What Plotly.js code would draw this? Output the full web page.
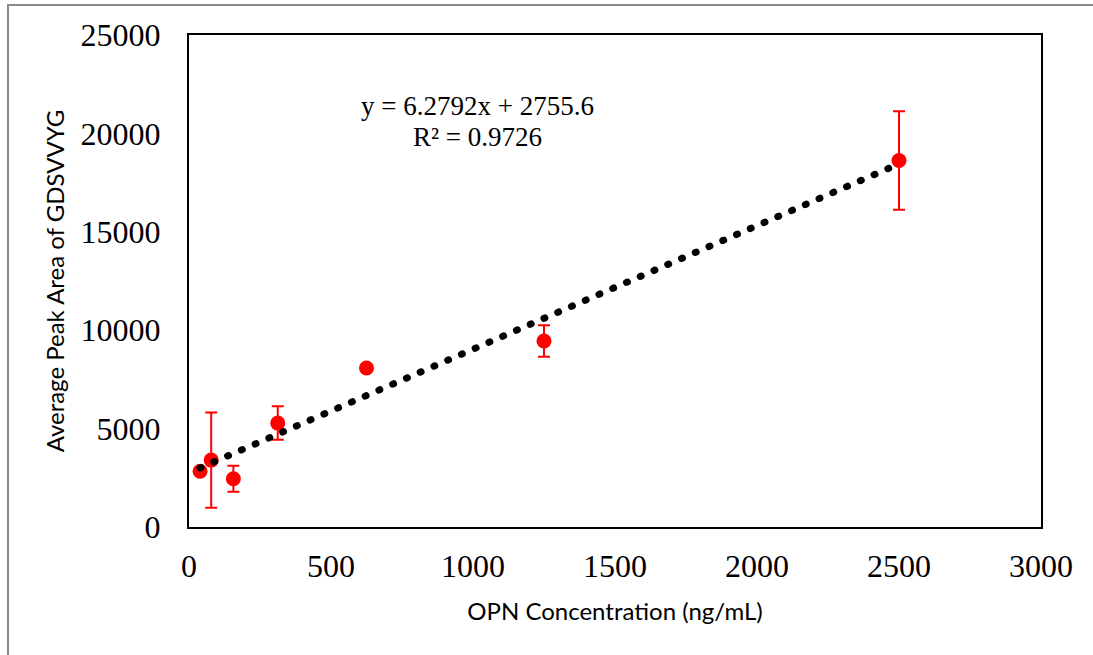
<!DOCTYPE html>
<html>
<head>
<meta charset="utf-8">
<script src="https://cdn.plot.ly/plotly-3.0.1.min.js"></script>
<style>
  html, body { margin: 0; padding: 0; background: #fff; }
  #wrap { position: relative; width: 1093px; height: 655px; overflow: hidden; }
  #chart { position: absolute; left: 0; top: 0; width: 1093px; height: 655px; }
  #frame { position: absolute; left: 7px; top: 4px; width: 1200px; height: 800px;
           border-left: 2px solid #8a8a8a; border-top: 2px solid #8a8a8a; pointer-events: none; }
  .scatterlayer .js-line { stroke-linecap: round; }
</style>
</head>
<body>
<div id="wrap"><div id="chart"></div><div id="frame"></div></div>
<script>
// Data
const concentration = [39.0625, 78.125, 156.25, 312.5, 625, 1250, 2500];
const peakArea      = [2830, 3400, 2450, 5280, 8080, 9450, 18620];
const errorSD       = [150, 2420, 660, 850, 120, 800, 2500];

// Trendline reported on the chart
const slope = 6.2792;
const intercept = 2755.6;
const trendX = [concentration[0], concentration[concentration.length - 1]];
const trendY = trendX.map(x => slope * x + intercept);

const xTicks = [0, 500, 1000, 1500, 2000, 2500, 3000];
const yTicks = [0, 5000, 10000, 15000, 20000, 25000];

const serif = "Liberation Serif, Times New Roman, serif";
const sans = "Lato, Liberation Sans, Arial, sans-serif";

const data = [
  {
    x: concentration, y: peakArea, type: 'scatter', mode: 'markers',
    marker: { color: '#ff0000', size: 15 },
    error_y: { type: 'data', array: errorSD, visible: true, color: '#ff0000', thickness: 2, width: 6 },
    showlegend: false, hoverinfo: 'x+y'
  },
  {
    x: trendX, y: trendY, type: 'scatter', mode: 'lines',
    line: { color: '#000000', width: 7, dash: '1px,14px' },
    showlegend: false, hoverinfo: 'skip'
  }
];

const layout = {
  width: 1093, height: 655,
  margin: { l: 189, r: 52, t: 35, b: 128 },
  paper_bgcolor: '#ffffff', plot_bgcolor: '#ffffff',
  showlegend: false,
  xaxis: {
    range: [0, 3000], tickvals: xTicks, ticktext: xTicks.map(String),
    showgrid: false, zeroline: false, showline: true, mirror: true,
    linecolor: '#000000', linewidth: 2, ticks: '',
    ticklabelstandoff: 10,
    tickfont: { family: serif, size: 32, color: '#000000' },
    title: { text: 'OPN Concentration (ng/mL)', standoff: 20,
             font: { family: sans, size: 24, color: '#000000' } }
  },
  yaxis: {
    range: [0, 25000], tickvals: yTicks, ticktext: yTicks.map(String),
    showgrid: false, zeroline: false, showline: true, mirror: true,
    linecolor: '#000000', linewidth: 2, ticks: '',
    ticklabelstandoff: 20,
    tickfont: { family: serif, size: 32, color: '#000000' },
    title: { text: 'Average Peak Area of GDSVVYG', standoff: 9,
             font: { family: sans, size: 24, color: '#000000' } }
  },
  annotations: [
    { xref: 'paper', yref: 'paper', x: (477 - 189) / 852, y: (527 - 106) / 492,
      text: 'y = ' + slope + 'x + ' + intercept, showarrow: false,
      xanchor: 'center', yanchor: 'middle',
      font: { family: serif, size: 27, color: '#000000' } },
    { xref: 'paper', yref: 'paper', x: (477 - 189) / 852, y: (527 - 137) / 492,
      text: 'R² = 0.9726', showarrow: false,
      xanchor: 'center', yanchor: 'middle',
      font: { family: serif, size: 27, color: '#000000' } }
  ]
};

Plotly.newPlot('chart', data, layout, { staticPlot: true, displayModeBar: false });
</script>
</body>
</html>
